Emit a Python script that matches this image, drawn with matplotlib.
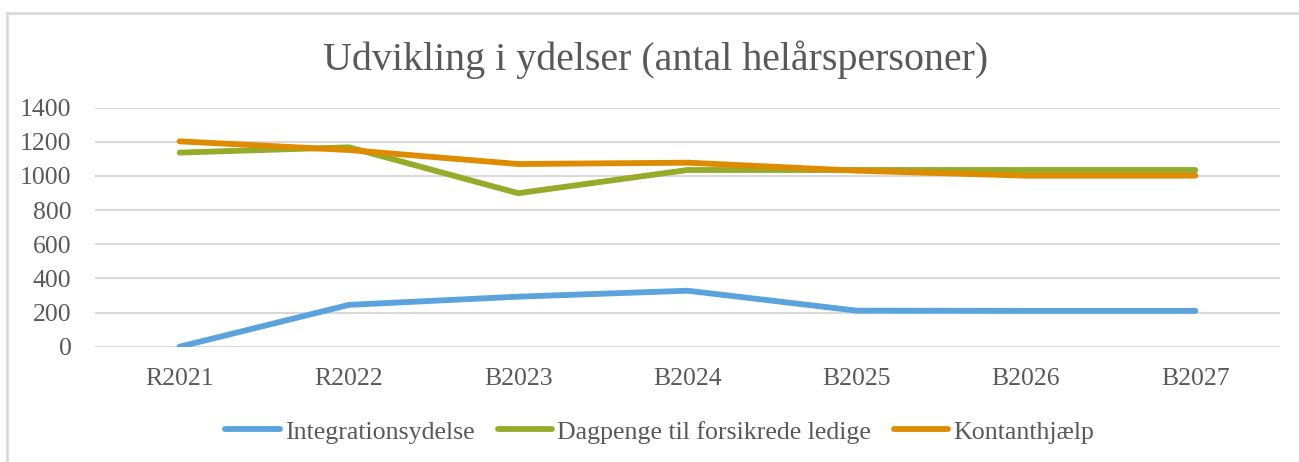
import numpy as np
import matplotlib.pyplot as plt
from matplotlib.lines import Line2D

categories = ['R2021', 'R2022', 'B2023', 'B2024', 'B2025', 'B2026', 'B2027']
integration = [0, 245, 293, 328, 211, 210, 210]
dagpenge = [1137, 1168, 899, 1035, 1035, 1035, 1035]
kontant = [1203, 1152, 1070, 1078, 1031, 1002, 1002]
series_names = ['Integrationsydelse', 'Dagpenge til forsikrede ledige', 'Kontanthjælp']
colors = ['#5BA3DD', '#94AC2A', '#DE8B00']

plt.rcParams['font.family'] = ['Liberation Serif', 'DejaVu Serif']
txt = '#595959'
grid = '#D9D9D9'

fig = plt.figure(figsize=(12.99, 4.62), dpi=100)
ax = fig.add_axes([95 / 1299, 115.3 / 462, 1185 / 1299, 239 / 462])

x = np.arange(len(categories))
for vals, c, name in zip([integration, dagpenge, kontant], colors, series_names):
    ax.plot(x, vals, color=c, lw=4.2, solid_capstyle='round',
            solid_joinstyle='round', label=name, zorder=3)

ax.set_xlim(-0.5, len(categories) - 0.5)
ax.set_ylim(0, 1400)
ax.set_yticks(range(0, 1401, 200))
ax.set_xticks(x)
ax.set_xticklabels(categories)
ax.grid(axis='y', color=grid, lw=1.5)
ax.set_axisbelow(True)
for s in ax.spines.values():
    s.set_visible(False)
ax.tick_params(length=0, colors=txt, labelsize=18.5)
ax.tick_params(axis='x', pad=15)
ax.tick_params(axis='y', pad=17)

fig.text(0.505, 1 - 60 / 462, 'Udvikling i ydelser (antal helårspersoner)',
         ha='center', va='center', fontsize=28.8, color=txt)

fig.legend(loc='center', bbox_to_anchor=(0.508, 1 - 432 / 462), ncol=3,
           frameon=False, fontsize=18.6, labelcolor=txt, handlelength=2.1,
           handletextpad=0.2, columnspacing=0.9)

# chart border
fig.add_artist(Line2D([7 / 1299, 1], [1 - 13 / 462] * 2, color=grid, lw=2))
fig.add_artist(Line2D([7 / 1299] * 2, [0, 1 - 13 / 462], color=grid, lw=2))

fig.savefig('out.png', dpi=100)
